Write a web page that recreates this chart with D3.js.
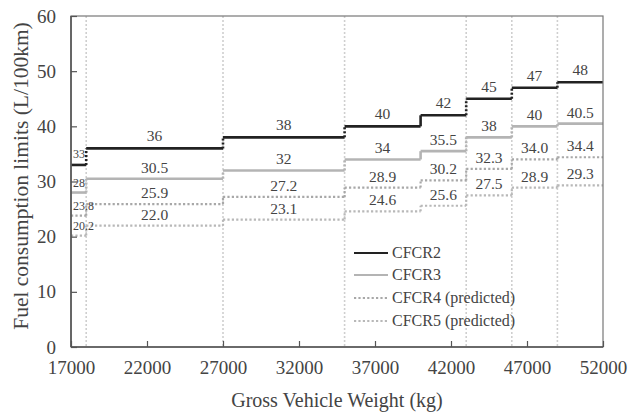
<!DOCTYPE html>
<html><head><meta charset="utf-8">
<script src="https://cdn.jsdelivr.net/npm/d3@7"></script>
<style>body{margin:0;background:#fff;} svg{display:block;} text{font-family:"Liberation Serif","Times New Roman",serif;}</style>
</head><body><svg id="c" width="628" height="418"></svg>
<script>
const breaks = [17000, 18000, 27000, 35000, 40000, 43000, 46000, 49000, 52000];
const gridX = [18000, 27000, 35000, 43000, 46000, 49000];
const cfcr2 = [33, 36, 38, 40, 42, 45, 47, 48];
const cfcr3 = [28, 30.5, 32, 34, 35.5, 38, 40, 40.5];
const cfcr4 = [23.8, 25.9, 27.2, 28.9, 30.2, 32.3, 34.0, 34.4];
const cfcr5 = [20.2, 22.0, 23.1, 24.6, 25.6, 27.5, 28.9, 29.3];
const labels2 = ["33","36","38","40","42","45","47","48"];
const labels3 = ["28","30.5","32","34","35.5","38","40","40.5"];
const labels4 = ["23.8","25.9","27.2","28.9","30.2","32.3","34.0","34.4"];
const labels5 = ["20.2","22.0","23.1","24.6","25.6","27.5","28.9","29.3"];
const seriesNames = ["CFCR2","CFCR3","CFCR4 (predicted)","CFCR5 (predicted)"];
const xTicks = [17000, 22000, 27000, 32000, 37000, 42000, 47000, 52000];
const yTicks = [0, 10, 20, 30, 40, 50, 60];

const svg = d3.select("#c");
const L = 71, R = 603, T = 16, B = 347;
const x = d3.scaleLinear().domain([17000, 52000]).range([L, R]);
const y = d3.scaleLinear().domain([0, 60]).range([B, T]);

const styles = [
  {color:"#222", width:2.6, dash:null},
  {color:"#b4b4b4", width:2.6, dash:null},
  {color:"#a8a8a8", width:2.2, dash:"2.2,2.2"},
  {color:"#b8b8b8", width:2.2, dash:"2.2,2.2"}
];
const series = [cfcr2, cfcr3, cfcr4, cfcr5];
const labels = [labels2, labels3, labels4, labels5];

svg.append("g").selectAll("line").data(gridX).join("line")
  .attr("x1", d => x(d)).attr("x2", d => x(d)).attr("y1", T).attr("y2", B)
  .attr("stroke", "#cfcfcf").attr("stroke-width", 1.6).attr("stroke-dasharray", "2,2");

series.forEach((vals, si) => {
  const st = styles[si];
  const g = svg.append("g");
  g.selectAll("line.h").data(vals).join("line").attr("class","h")
    .attr("x1", (d,i) => x(breaks[i])).attr("x2", (d,i) => x(breaks[i+1]))
    .attr("y1", d => y(d)).attr("y2", d => y(d))
    .attr("stroke", st.color).attr("stroke-width", st.width)
    .attr("stroke-dasharray", st.dash);
  const conns = vals.slice(1).map((v,i) => ({x: breaks[i+1], a: vals[i], b: v}));
  g.selectAll("line.v").data(conns).join("line").attr("class","v")
    .attr("x1", d => x(d.x)).attr("x2", d => x(d.x))
    .attr("y1", d => y(d.a)).attr("y2", d => y(d.b))
    .attr("stroke", st.color).attr("stroke-width", st.width)
    .attr("stroke-dasharray", d => (gridX.includes(d.x) || st.dash) ? "2,2" : null);
  g.selectAll("text").data(vals).join("text")
    .attr("x", (d,i) => i===0 ? x(breaks[0]) + 2 : (x(breaks[i]) + x(breaks[i+1]))/2)
    .attr("y", d => y(d) - (si===0 ? 7 : 6))
    .attr("text-anchor", (d,i) => i===0 ? "start" : "middle")
    .attr("font-size", (d,i) => i===0 ? 12 : 15.5)
    .attr("fill", "#444")
    .text((d,i) => labels[si][i]);
});

svg.append("rect").attr("x", L).attr("y", T).attr("width", R-L).attr("height", B-T)
  .attr("fill","none").attr("stroke","#777").attr("stroke-width",1.2);
svg.append("line").attr("x1",L).attr("x2",L).attr("y1",T).attr("y2",B).attr("stroke","#555").attr("stroke-width",1.6);
svg.append("line").attr("x1",L).attr("x2",R).attr("y1",B).attr("y2",B).attr("stroke","#555").attr("stroke-width",1.6);

const xAxis = d3.axisBottom(x).tickValues(xTicks).tickSizeInner(-6).tickSizeOuter(0).tickPadding(14).tickFormat(d3.format("d"));
const gx = svg.append("g").attr("transform", `translate(0,${B})`).call(xAxis);
gx.select(".domain").remove();
gx.selectAll(".tick line").attr("stroke","#555").attr("stroke-width",1.2);
gx.selectAll(".tick text").attr("font-size",19).attr("fill","#444").attr("font-family","Liberation Serif");

const yAxis = d3.axisLeft(y).tickValues(yTicks).tickSizeInner(-6).tickSizeOuter(0).tickPadding(15);
const gy = svg.append("g").attr("transform", `translate(${L},0)`).call(yAxis);
gy.select(".domain").remove();
gy.selectAll(".tick line").attr("stroke","#555").attr("stroke-width",1.2);
gy.selectAll(".tick text").attr("font-size",19).attr("fill","#444").attr("font-family","Liberation Serif");

svg.append("text").attr("x", 337).attr("y", 407).attr("text-anchor","middle")
  .attr("font-size",20).attr("fill","#444").text("Gross Vehicle Weight (kg)");
svg.append("text").attr("transform", `translate(28,176) rotate(-90)`).attr("text-anchor","middle")
  .attr("font-size",21.5).attr("fill","#444").text("Fuel consumption limits (L/100km)");

const lg = svg.append("g");
const ly = [253, 275, 298, 321];
seriesNames.forEach((n, i) => {
  const st = styles[i];
  lg.append("line").attr("x1",354).attr("x2",388).attr("y1",ly[i]).attr("y2",ly[i])
    .attr("stroke", st.color).attr("stroke-width", st.width - 0.4).attr("stroke-dasharray", st.dash);
  lg.append("text").attr("x",392).attr("y",ly[i]+5).attr("font-size",16).attr("fill","#444").text(n);
});
</script></body></html>
